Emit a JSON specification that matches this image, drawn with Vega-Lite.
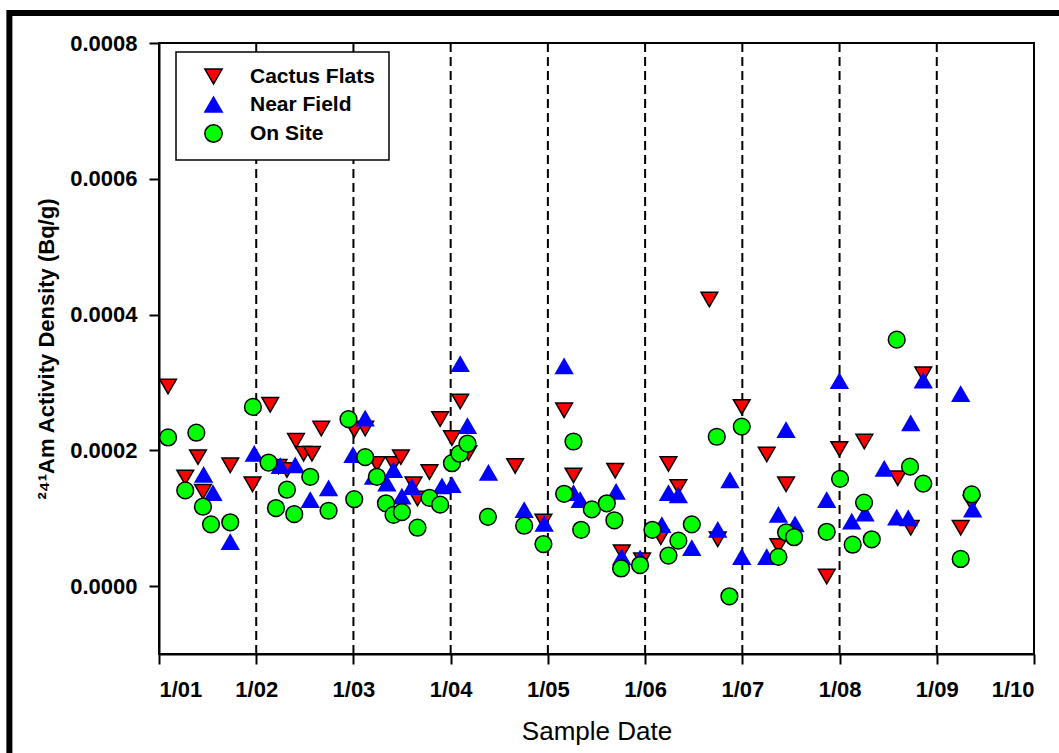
{
  "$schema": "https://vega.github.io/schema/vega-lite/v6.json",
  "width": 875,
  "height": 611,
  "autosize": {"type": "none"},
  "padding": {"left": 159, "top": 43, "right": 25, "bottom": 99},
  "background": "white",
  "config": {
    "font": "Liberation Sans",
    "view": {"stroke": "black", "strokeWidth": 2},
    "axis": {
      "grid": false,
      "domainColor": "black",
      "domainWidth": 2,
      "tickColor": "black",
      "tickWidth": 2,
      "tickSize": 10,
      "labelColor": "black",
      "labelFont": "Liberation Sans",
      "labelFontWeight": "bold",
      "labelFontSize": 22,
      "titleColor": "black",
      "titleFont": "Liberation Sans",
      "titleLimit": 2000
    },
    "legend": {
      "orient": "none",
      "legendX": 17,
      "legendY": 9,
      "fillColor": "white",
      "strokeColor": "black",
      "strokeWidth": 1.5,
      "padding": 14,
      "symbolOffset": 13,
      "labelOffset": 26,
      "rowPadding": 6,
      "labelFont": "Liberation Sans",
      "labelFontWeight": "bold",
      "labelFontSize": 21,
      "labelColor": "black",
      "symbolSize": 300,
      "symbolStrokeWidth": 1.5,
      "cornerRadius": 0
    }
  },
  "datasets": {
    "years": [
      {"year": 2002}, {"year": 2003}, {"year": 2004}, {"year": 2005},
      {"year": 2006}, {"year": 2007}, {"year": 2008}, {"year": 2009}
    ],
    "points": [
      {"d": 2001.093, "v": 0.000294, "s": "Cactus Flats"},
      {"d": 2001.270, "v": 0.000160, "s": "Cactus Flats"},
      {"d": 2001.401, "v": 0.000190, "s": "Cactus Flats"},
      {"d": 2001.452, "v": 0.000139, "s": "Cactus Flats"},
      {"d": 2001.733, "v": 0.000178, "s": "Cactus Flats"},
      {"d": 2001.962, "v": 0.000150, "s": "Cactus Flats"},
      {"d": 2002.144, "v": 0.000267, "s": "Cactus Flats"},
      {"d": 2002.230, "v": 0.000176, "s": "Cactus Flats"},
      {"d": 2002.316, "v": 0.000171, "s": "Cactus Flats"},
      {"d": 2002.409, "v": 0.000214, "s": "Cactus Flats"},
      {"d": 2002.487, "v": 0.000195, "s": "Cactus Flats"},
      {"d": 2002.573, "v": 0.000195, "s": "Cactus Flats"},
      {"d": 2002.669, "v": 0.000232, "s": "Cactus Flats"},
      {"d": 2003.008, "v": 0.000230, "s": "Cactus Flats"},
      {"d": 2003.121, "v": 0.000232, "s": "Cactus Flats"},
      {"d": 2003.241, "v": 0.000180, "s": "Cactus Flats"},
      {"d": 2003.412, "v": 0.000180, "s": "Cactus Flats"},
      {"d": 2003.488, "v": 0.000190, "s": "Cactus Flats"},
      {"d": 2003.618, "v": 0.000150, "s": "Cactus Flats"},
      {"d": 2003.659, "v": 0.000129, "s": "Cactus Flats"},
      {"d": 2003.782, "v": 0.000168, "s": "Cactus Flats"},
      {"d": 2003.892, "v": 0.000246, "s": "Cactus Flats"},
      {"d": 2004.013, "v": 0.000218, "s": "Cactus Flats"},
      {"d": 2004.098, "v": 0.000272, "s": "Cactus Flats"},
      {"d": 2004.183, "v": 0.000196, "s": "Cactus Flats"},
      {"d": 2004.663, "v": 0.000177, "s": "Cactus Flats"},
      {"d": 2004.954, "v": 0.000095, "s": "Cactus Flats"},
      {"d": 2005.167, "v": 0.000259, "s": "Cactus Flats"},
      {"d": 2005.263, "v": 0.000163, "s": "Cactus Flats"},
      {"d": 2005.692, "v": 0.000170, "s": "Cactus Flats"},
      {"d": 2005.760, "v": 0.000050, "s": "Cactus Flats"},
      {"d": 2005.969, "v": 0.000038, "s": "Cactus Flats"},
      {"d": 2006.161, "v": 0.000072, "s": "Cactus Flats"},
      {"d": 2006.240, "v": 0.000180, "s": "Cactus Flats"},
      {"d": 2006.342, "v": 0.000146, "s": "Cactus Flats"},
      {"d": 2006.661, "v": 0.000422, "s": "Cactus Flats"},
      {"d": 2006.747, "v": 0.000069, "s": "Cactus Flats"},
      {"d": 2006.994, "v": 0.000264, "s": "Cactus Flats"},
      {"d": 2007.251, "v": 0.000194, "s": "Cactus Flats"},
      {"d": 2007.371, "v": 0.000059, "s": "Cactus Flats"},
      {"d": 2007.450, "v": 0.000150, "s": "Cactus Flats"},
      {"d": 2007.868, "v": 0.000014, "s": "Cactus Flats"},
      {"d": 2007.998, "v": 0.000202, "s": "Cactus Flats"},
      {"d": 2008.255, "v": 0.000213, "s": "Cactus Flats"},
      {"d": 2008.598, "v": 0.000159, "s": "Cactus Flats"},
      {"d": 2008.732, "v": 0.000086, "s": "Cactus Flats"},
      {"d": 2008.861, "v": 0.000312, "s": "Cactus Flats"},
      {"d": 2009.246, "v": 0.000086, "s": "Cactus Flats"},
      {"d": 2009.359, "v": 0.000122, "s": "Cactus Flats"},
      {"d": 2001.459, "v": 0.000164, "s": "Near Field"},
      {"d": 2001.555, "v": 0.000137, "s": "Near Field"},
      {"d": 2001.733, "v": 0.000065, "s": "Near Field"},
      {"d": 2001.980, "v": 0.000195, "s": "Near Field"},
      {"d": 2002.247, "v": 0.000177, "s": "Near Field"},
      {"d": 2002.401, "v": 0.000178, "s": "Near Field"},
      {"d": 2002.556, "v": 0.000127, "s": "Near Field"},
      {"d": 2002.744, "v": 0.000144, "s": "Near Field"},
      {"d": 2002.995, "v": 0.000193, "s": "Near Field"},
      {"d": 2003.121, "v": 0.000247, "s": "Near Field"},
      {"d": 2003.206, "v": 0.000161, "s": "Near Field"},
      {"d": 2003.344, "v": 0.000151, "s": "Near Field"},
      {"d": 2003.412, "v": 0.000171, "s": "Near Field"},
      {"d": 2003.498, "v": 0.000132, "s": "Near Field"},
      {"d": 2003.601, "v": 0.000146, "s": "Near Field"},
      {"d": 2003.910, "v": 0.000147, "s": "Near Field"},
      {"d": 2004.013, "v": 0.000149, "s": "Near Field"},
      {"d": 2004.098, "v": 0.000327, "s": "Near Field"},
      {"d": 2004.173, "v": 0.000236, "s": "Near Field"},
      {"d": 2004.389, "v": 0.000167, "s": "Near Field"},
      {"d": 2004.756, "v": 0.000112, "s": "Near Field"},
      {"d": 2004.962, "v": 0.000092, "s": "Near Field"},
      {"d": 2005.167, "v": 0.000324, "s": "Near Field"},
      {"d": 2005.263, "v": 0.000137, "s": "Near Field"},
      {"d": 2005.332, "v": 0.000127, "s": "Near Field"},
      {"d": 2005.702, "v": 0.000139, "s": "Near Field"},
      {"d": 2005.760, "v": 0.000043, "s": "Near Field"},
      {"d": 2005.948, "v": 0.000041, "s": "Near Field"},
      {"d": 2006.172, "v": 0.000090, "s": "Near Field"},
      {"d": 2006.240, "v": 0.000137, "s": "Near Field"},
      {"d": 2006.342, "v": 0.000134, "s": "Near Field"},
      {"d": 2006.480, "v": 0.000056, "s": "Near Field"},
      {"d": 2006.747, "v": 0.000083, "s": "Near Field"},
      {"d": 2006.873, "v": 0.000156, "s": "Near Field"},
      {"d": 2006.994, "v": 0.000043, "s": "Near Field"},
      {"d": 2007.251, "v": 0.000043, "s": "Near Field"},
      {"d": 2007.371, "v": 0.000105, "s": "Near Field"},
      {"d": 2007.450, "v": 0.000230, "s": "Near Field"},
      {"d": 2007.542, "v": 0.000091, "s": "Near Field"},
      {"d": 2007.868, "v": 0.000127, "s": "Near Field"},
      {"d": 2007.998, "v": 0.000302, "s": "Near Field"},
      {"d": 2008.125, "v": 0.000095, "s": "Near Field"},
      {"d": 2008.262, "v": 0.000107, "s": "Near Field"},
      {"d": 2008.460, "v": 0.000173, "s": "Near Field"},
      {"d": 2008.588, "v": 0.000101, "s": "Near Field"},
      {"d": 2008.707, "v": 0.000100, "s": "Near Field"},
      {"d": 2008.732, "v": 0.000240, "s": "Near Field"},
      {"d": 2008.861, "v": 0.000303, "s": "Near Field"},
      {"d": 2009.246, "v": 0.000283, "s": "Near Field"},
      {"d": 2009.369, "v": 0.000113, "s": "Near Field"},
      {"d": 2001.093, "v": 0.000219, "s": "On Site"},
      {"d": 2001.270, "v": 0.000141, "s": "On Site"},
      {"d": 2001.384, "v": 0.000226, "s": "On Site"},
      {"d": 2001.452, "v": 0.000117, "s": "On Site"},
      {"d": 2001.535, "v": 0.000091, "s": "On Site"},
      {"d": 2001.733, "v": 0.000094, "s": "On Site"},
      {"d": 2001.966, "v": 0.000264, "s": "On Site"},
      {"d": 2002.127, "v": 0.000182, "s": "On Site"},
      {"d": 2002.203, "v": 0.000115, "s": "On Site"},
      {"d": 2002.316, "v": 0.000142, "s": "On Site"},
      {"d": 2002.391, "v": 0.000106, "s": "On Site"},
      {"d": 2002.556, "v": 0.000161, "s": "On Site"},
      {"d": 2002.744, "v": 0.000111, "s": "On Site"},
      {"d": 2002.949, "v": 0.000246, "s": "On Site"},
      {"d": 2003.008, "v": 0.000128, "s": "On Site"},
      {"d": 2003.121, "v": 0.000190, "s": "On Site"},
      {"d": 2003.241, "v": 0.000161, "s": "On Site"},
      {"d": 2003.334, "v": 0.000122, "s": "On Site"},
      {"d": 2003.412, "v": 0.000105, "s": "On Site"},
      {"d": 2003.498, "v": 0.000109, "s": "On Site"},
      {"d": 2003.659, "v": 0.000086, "s": "On Site"},
      {"d": 2003.782, "v": 0.000130, "s": "On Site"},
      {"d": 2003.892, "v": 0.000120, "s": "On Site"},
      {"d": 2004.013, "v": 0.000181, "s": "On Site"},
      {"d": 2004.091, "v": 0.000195, "s": "On Site"},
      {"d": 2004.173, "v": 0.000210, "s": "On Site"},
      {"d": 2004.383, "v": 0.000102, "s": "On Site"},
      {"d": 2004.756, "v": 0.000089, "s": "On Site"},
      {"d": 2004.954, "v": 0.000062, "s": "On Site"},
      {"d": 2005.167, "v": 0.000136, "s": "On Site"},
      {"d": 2005.263, "v": 0.000213, "s": "On Site"},
      {"d": 2005.342, "v": 0.000083, "s": "On Site"},
      {"d": 2005.452, "v": 0.000113, "s": "On Site"},
      {"d": 2005.606, "v": 0.000122, "s": "On Site"},
      {"d": 2005.684, "v": 0.000097, "s": "On Site"},
      {"d": 2005.753, "v": 0.000026, "s": "On Site"},
      {"d": 2005.948, "v": 0.000031, "s": "On Site"},
      {"d": 2006.075, "v": 0.000083, "s": "On Site"},
      {"d": 2006.240, "v": 0.000045, "s": "On Site"},
      {"d": 2006.342, "v": 0.000067, "s": "On Site"},
      {"d": 2006.480, "v": 0.000091, "s": "On Site"},
      {"d": 2006.737, "v": 0.000220, "s": "On Site"},
      {"d": 2006.867, "v": -0.000015, "s": "On Site"},
      {"d": 2006.994, "v": 0.000235, "s": "On Site"},
      {"d": 2007.371, "v": 0.000043, "s": "On Site"},
      {"d": 2007.450, "v": 0.000079, "s": "On Site"},
      {"d": 2007.532, "v": 0.000072, "s": "On Site"},
      {"d": 2007.868, "v": 0.000080, "s": "On Site"},
      {"d": 2008.005, "v": 0.000158, "s": "On Site"},
      {"d": 2008.135, "v": 0.000061, "s": "On Site"},
      {"d": 2008.252, "v": 0.000123, "s": "On Site"},
      {"d": 2008.331, "v": 0.000069, "s": "On Site"},
      {"d": 2008.588, "v": 0.000363, "s": "On Site"},
      {"d": 2008.725, "v": 0.000176, "s": "On Site"},
      {"d": 2008.861, "v": 0.000151, "s": "On Site"},
      {"d": 2009.246, "v": 0.000040, "s": "On Site"},
      {"d": 2009.359, "v": 0.000135, "s": "On Site"}
    ]
  },
  "layer": [
    {
      "data": {"values": [{"frame": "outer"}]},
      "mark": {"type": "rect", "fill": null, "stroke": "black", "strokeWidth": 6, "clip": false},
      "encoding": {
        "x": {"datum": 1999.461, "type": "quantitative"},
        "x2": {"datum": 2010.45},
        "y": {"datum": 0.0008442, "type": "quantitative"},
        "y2": {"datum": -0.00028}
      }
    },
    {
      "data": {"name": "years"},
      "mark": {"type": "rule", "color": "black", "strokeWidth": 2, "strokeDash": [9, 5]},
      "encoding": {
        "x": {"field": "year", "type": "quantitative"}
      }
    },
    {
      "data": {"name": "points"},
      "mark": {"type": "point", "filled": true, "size": 280, "strokeWidth": 1.5, "opacity": 1},
      "encoding": {
        "x": {
          "field": "d",
          "type": "quantitative",
          "scale": {"domain": [2001, 2010], "nice": false, "zero": false},
          "axis": {
            "values": [2001, 2002, 2003, 2004, 2005, 2006, 2007, 2008, 2009, 2010],
            "labelExpr": "'1/' + substring(toString(datum.value), 2, 4)",
            "labelPadding": 15,
            "titleFontSize": 26,
            "titleFontWeight": "normal",
            "titlePadding": 18
          },
          "title": "Sample Date"
        },
        "y": {
          "field": "v",
          "type": "quantitative",
          "scale": {"domain": [-0.0001, 0.0008], "nice": false, "zero": false},
          "axis": {
            "values": [0, 0.0002, 0.0004, 0.0006, 0.0008],
            "format": ".4f",
            "labelPadding": 12,
            "titleFontSize": 22,
            "titleFontWeight": "bold",
            "titlePadding": 11
          },
          "title": "²⁴¹Am Activity Density (Bq/g)"
        },
        "fill": {
          "field": "s",
          "type": "nominal",
          "title": null,
          "scale": {"domain": ["Cactus Flats", "Near Field", "On Site"], "range": ["#ff0000", "#0000ff", "#00ff00"]}
        },
        "stroke": {
          "field": "s",
          "type": "nominal",
          "title": null,
          "scale": {"domain": ["Cactus Flats", "Near Field", "On Site"], "range": ["#000000", "#0000ff", "#000000"]}
        },
        "shape": {
          "field": "s",
          "type": "nominal",
          "title": null,
          "scale": {"domain": ["Cactus Flats", "Near Field", "On Site"], "range": ["triangle-down", "triangle-up", "circle"]}
        }
      }
    }
  ]
}
